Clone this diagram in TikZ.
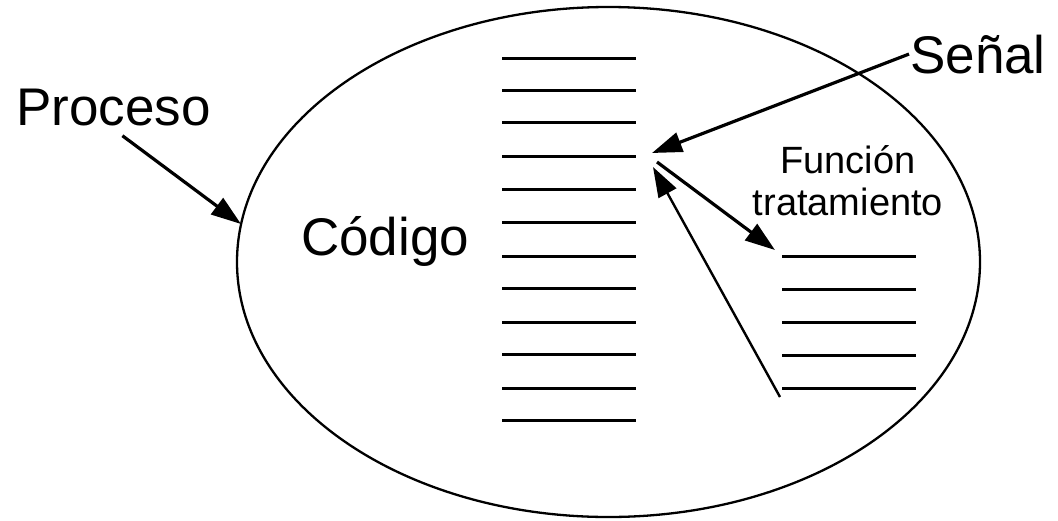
\documentclass[tikz,border=0pt]{standalone}
\usepackage{fontspec}
\setmainfont{Liberation Sans}
\usetikzlibrary{arrows.meta}

\begin{document}
\begin{tikzpicture}[x=1pt, y=-1pt,
    linea/.style={line width=3.4pt},
    flecha/.style={-{Triangle[length=30pt,width=20pt]}, line width=3.2pt},
    rotulo/.style={inner sep=0pt, font=\fontsize{53}{60}\selectfont}]
      \useasboundingbox (0, 0) rectangle (1058, 520);
      \draw [line width=2.3pt] (608.5, 262) ellipse [x radius=371.5, y radius=255];
      \foreach \i/\y in {1/58, 2/90, 3/122, 4/156, 5/189, 6/222, 7/256, 8/288, 9/322, 10/354, 11/388, 12/420}{
        \draw [linea] (502, \y+0.5) coordinate (c\i) -- ++(134, 0) coordinate (c\i e);
      }
      \foreach \i/\y in {1/256, 2/289, 3/322, 4/355, 5/388}{
        \draw [linea] (782, \y+0.5) coordinate (f\i) -- ++(134, 0) coordinate (f\i e);
      }
      \node [rotulo, anchor=base west] (proceso) at (16, 125) {Proceso};
      \node [rotulo, anchor=base west] (codigo) at (301, 255) {Código};
      \node [rotulo, anchor=base west] (senal) at (910, 73) {Señal};
      \node [inner sep=0pt, anchor=base, align=center, font=\fontsize{38}{42}\selectfont] (funcion) at (848, 215) {Función\\tratamiento};
      \draw [flecha] ([shift={(9, 10)}]proceso.south) -- (241, 224);
      \draw [flecha] ([xshift=-1pt]senal.west) -- ([shift={(16, -3.5)}]c4e);
      \draw [flecha] ([shift={(21, 5.5)}]c4e) -- ([shift={(-7, -6.5)}]f1);
      \draw [flecha, line width=2.4pt] ([shift={(-2, 8.5)}]f5) -- ([shift={(17, 10.5)}]c4e);
\end{tikzpicture}
\end{document}
